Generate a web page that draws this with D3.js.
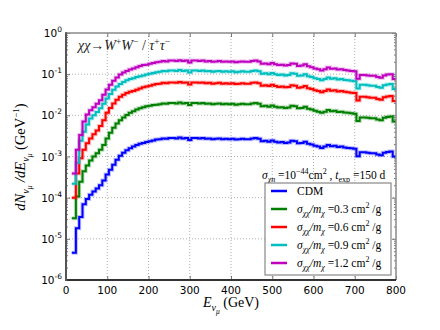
<!DOCTYPE html>
<html><head><meta charset="utf-8">
<script src="https://cdn.jsdelivr.net/npm/d3@7"></script>
<style>body{margin:0;background:#fff}svg{display:block}</style>
</head><body><div id="chart"></div>
<script>
// energy bins (GeV)
const energyEdges = [14, ...d3.range(24, 801, 8)];
const xTicks = [0,100,200,300,400,500,600,700,800];
const yTickExps = [-6,-5,-4,-3,-2,-1,0];
const seriesLabels = ["CDM","0.3","0.6","0.9","1.2"];
const seriesColors = ["#0000ff","#008000","#ff0000","#00bfbf","#bf00bf"];

const cdm = [4.6e-6,1.8e-5,3.4e-5,6.9e-5,9.3e-5,1.17e-4,1.41e-4,1.66e-4,2.0e-4,2.63e-4,
3.63e-4,4.79e-4,6.31e-4,8.32e-4,1.05e-3,1.23e-3,1.41e-3,1.58e-3,1.74e-3,1.91e-3,
2.04e-3,2.14e-3,2.24e-3,2.34e-3,2.45e-3,2.57e-3,2.63e-3,2.75e-3,2.69e-3,2.82e-3,
2.82e-3,2.75e-3,2.88e-3,2.75e-3,2.82e-3,2.51e-3,2.82e-3,2.82e-3,2.75e-3,2.82e-3,
2.69e-3,2.75e-3,2.63e-3,2.69e-3,2.75e-3,2.63e-3,2.69e-3,2.63e-3,2.69e-3,2.57e-3,
2.63e-3,2.69e-3,2.63e-3,2.63e-3,2.75e-3,2.82e-3,2.69e-3,2.34e-3,2.40e-3,2.29e-3,
2.45e-3,2.29e-3,2.19e-3,2.24e-3,2.14e-3,2.19e-3,2.40e-3,2.34e-3,2.09e-3,2.14e-3,
2.29e-3,2.04e-3,1.95e-3,1.82e-3,1.74e-3,1.62e-3,1.74e-3,1.91e-3,1.78e-3,1.82e-3,
1.70e-3,1.74e-3,1.66e-3,1.62e-3,1.58e-3,1.55e-3,1.02e-3,1.26e-3,1.26e-3,1.23e-3,
1.20e-3,1.20e-3,1.12e-3,1.07e-3,1.23e-3,1.29e-3,1.32e-3,1.00e-3];

const sidm03 = [3.16e-5,1.07e-4,2.45e-4,4.37e-4,6.03e-4,7.94e-4,1.00e-3,1.20e-3,1.45e-3,1.91e-3,
2.75e-3,3.80e-3,5.01e-3,6.31e-3,7.59e-3,8.91e-3,1.02e-2,1.15e-2,1.26e-2,1.38e-2,
1.48e-2,1.58e-2,1.66e-2,1.70e-2,1.78e-2,1.82e-2,1.86e-2,1.95e-2,1.91e-2,2.00e-2,
2.00e-2,1.95e-2,2.04e-2,1.95e-2,2.00e-2,1.78e-2,2.00e-2,2.00e-2,1.95e-2,2.00e-2,
1.91e-2,1.95e-2,1.86e-2,1.91e-2,1.95e-2,1.86e-2,1.91e-2,1.86e-2,1.91e-2,1.82e-2,
1.86e-2,1.91e-2,1.86e-2,1.86e-2,1.95e-2,2.00e-2,1.91e-2,1.66e-2,1.70e-2,1.62e-2,
1.74e-2,1.62e-2,1.55e-2,1.58e-2,1.51e-2,1.55e-2,1.70e-2,1.66e-2,1.48e-2,1.51e-2,
1.62e-2,1.45e-2,1.38e-2,1.29e-2,1.23e-2,1.15e-2,1.23e-2,1.35e-2,1.26e-2,1.29e-2,
1.20e-2,1.23e-2,1.17e-2,1.15e-2,1.12e-2,1.10e-2,7.24e-3,8.91e-3,8.91e-3,8.71e-3,
8.51e-3,8.51e-3,7.94e-3,7.59e-3,8.71e-3,9.12e-3,9.33e-3,7.08e-3];

const sidm06 = [1.00e-4,3.89e-4,9.12e-4,1.45e-3,2.09e-3,2.75e-3,3.47e-3,4.27e-3,5.50e-3,7.59e-3,
1.15e-2,1.51e-2,1.95e-2,2.40e-2,2.82e-2,3.16e-2,3.47e-2,3.72e-2,3.89e-2,4.17e-2,
4.47e-2,4.79e-2,5.01e-2,5.25e-2,5.50e-2,5.75e-2,5.89e-2,6.17e-2,6.03e-2,6.31e-2,
6.31e-2,6.17e-2,6.46e-2,6.17e-2,6.31e-2,5.62e-2,6.31e-2,6.31e-2,6.17e-2,6.31e-2,
6.03e-2,6.17e-2,5.89e-2,6.03e-2,6.17e-2,5.89e-2,6.03e-2,5.89e-2,6.03e-2,5.75e-2,
5.89e-2,6.03e-2,5.89e-2,5.89e-2,6.17e-2,6.31e-2,6.03e-2,5.25e-2,5.37e-2,5.13e-2,
5.50e-2,5.13e-2,4.90e-2,5.01e-2,4.79e-2,4.90e-2,5.37e-2,5.25e-2,4.68e-2,4.79e-2,
5.13e-2,4.57e-2,4.37e-2,4.07e-2,3.89e-2,3.63e-2,3.89e-2,4.27e-2,3.98e-2,4.07e-2,
3.80e-2,3.89e-2,3.72e-2,3.63e-2,3.55e-2,3.47e-2,2.29e-2,2.82e-2,2.82e-2,2.75e-2,
2.69e-2,2.69e-2,2.51e-2,2.40e-2,2.75e-2,2.88e-2,2.95e-2,2.24e-2];

const sidm09 = [2.19e-4,7.08e-4,2.40e-3,3.98e-3,6.03e-3,8.32e-3,1.00e-2,1.20e-2,1.48e-2,1.91e-2,
2.57e-2,3.31e-2,4.17e-2,5.01e-2,5.75e-2,6.46e-2,7.08e-2,7.59e-2,7.94e-2,8.51e-2,
8.91e-2,9.33e-2,9.77e-2,1.02e-1,1.07e-1,1.12e-1,1.15e-1,1.20e-1,1.17e-1,1.23e-1,
1.23e-1,1.20e-1,1.26e-1,1.20e-1,1.23e-1,1.10e-1,1.23e-1,1.23e-1,1.20e-1,1.23e-1,
1.17e-1,1.20e-1,1.15e-1,1.17e-1,1.20e-1,1.15e-1,1.17e-1,1.15e-1,1.17e-1,1.12e-1,
1.15e-1,1.17e-1,1.15e-1,1.15e-1,1.20e-1,1.23e-1,1.17e-1,1.02e-1,1.05e-1,1.00e-1,
1.07e-1,1.00e-1,9.55e-2,9.77e-2,9.33e-2,9.55e-2,1.05e-1,1.02e-1,9.12e-2,9.33e-2,
1.00e-1,8.91e-2,8.51e-2,7.94e-2,7.59e-2,7.08e-2,7.59e-2,8.32e-2,7.76e-2,7.94e-2,
7.41e-2,7.59e-2,7.24e-2,7.08e-2,6.92e-2,6.76e-2,4.47e-2,5.50e-2,5.50e-2,5.37e-2,
5.25e-2,5.25e-2,4.90e-2,4.68e-2,5.37e-2,5.62e-2,5.75e-2,4.37e-2];

const sidm12 = [3.89e-4,1.45e-3,3.31e-3,7.08e-3,1.05e-2,1.32e-2,1.58e-2,1.91e-2,2.34e-2,3.16e-2,
4.27e-2,5.50e-2,6.92e-2,8.32e-2,9.77e-2,1.10e-1,1.20e-1,1.29e-1,1.38e-1,1.48e-1,
1.58e-1,1.66e-1,1.70e-1,1.78e-1,1.86e-1,1.95e-1,2.00e-1,2.09e-1,2.04e-1,2.14e-1,
2.14e-1,2.09e-1,2.19e-1,2.09e-1,2.14e-1,1.91e-1,2.14e-1,2.14e-1,2.09e-1,2.14e-1,
2.04e-1,2.09e-1,2.00e-1,2.04e-1,2.09e-1,2.00e-1,2.04e-1,2.00e-1,2.04e-1,1.95e-1,
2.00e-1,2.04e-1,2.00e-1,2.00e-1,2.09e-1,2.14e-1,2.04e-1,1.78e-1,1.82e-1,1.74e-1,
1.86e-1,1.74e-1,1.66e-1,1.70e-1,1.62e-1,1.66e-1,1.82e-1,1.78e-1,1.58e-1,1.62e-1,
1.74e-1,1.55e-1,1.48e-1,1.38e-1,1.32e-1,1.23e-1,1.32e-1,1.45e-1,1.35e-1,1.38e-1,
1.29e-1,1.32e-1,1.26e-1,1.23e-1,1.20e-1,1.17e-1,7.76e-2,9.55e-2,9.55e-2,9.33e-2,
9.12e-2,9.12e-2,8.51e-2,8.13e-2,9.33e-2,9.77e-2,1.00e-1,7.59e-2];

const allSeries = [cdm, sidm03, sidm06, sidm09, sidm12];

const W = 440, H = 330;
const M = {left: 66, right: 44, top: 33, bottom: 50};
const svg = d3.select("#chart").append("svg").attr("width", W).attr("height", H);
const x = d3.scaleLinear().domain([0, 800]).range([M.left, W - M.right]);
const y = d3.scaleLog().domain([1e-6, 1]).range([H - M.bottom, M.top]);
const x0 = M.left, x1 = W - M.right, y0 = H - M.bottom, y1 = M.top;
const SERIF = "'Liberation Serif','DejaVu Serif',serif";
const SANS = "'DejaVu Sans',sans-serif";

// grid
const grid = svg.append("g").attr("stroke", "#9a9a9a").attr("stroke-width", 0.8).attr("stroke-dasharray", "1,2");
xTicks.slice(1, -1).forEach(t => grid.append("line").attr("x1", x(t)).attr("x2", x(t)).attr("y1", y1).attr("y2", y0));
yTickExps.slice(1, -1).forEach(e => grid.append("line").attr("x1", x0).attr("x2", x1).attr("y1", y(Math.pow(10, e))).attr("y2", y(Math.pow(10, e))));

// axes (ticks inside)
const minorVals = [];
yTickExps.slice(0, -1).forEach(e => { for (let k = 2; k <= 9; k++) minorVals.push(k * Math.pow(10, e)); });
const yLeft = d3.axisLeft(y).tickValues(yTickExps.map(e => Math.pow(10, e))).tickSize(-4).tickFormat("");
const yLeftMinor = d3.axisLeft(y).tickValues(minorVals).tickSize(-2).tickFormat("");
const yRight = d3.axisRight(y).tickValues(yTickExps.map(e => Math.pow(10, e))).tickSize(-4).tickFormat("");
const yRightMinor = d3.axisRight(y).tickValues(minorVals).tickSize(-2).tickFormat("");
const xBottom = d3.axisBottom(x).tickValues(xTicks).tickSize(-4).tickFormat("");
const xTop = d3.axisTop(x).tickValues(xTicks).tickSize(-4).tickFormat("");
function styleAxis(g, col) { g.select(".domain").remove(); g.selectAll("line").attr("stroke", col).attr("stroke-width", 0.8); }
svg.append("g").attr("transform", `translate(${x0},0)`).call(yLeft).call(g => styleAxis(g, "#555"));
svg.append("g").attr("transform", `translate(${x0},0)`).call(yLeftMinor).call(g => styleAxis(g, "#555"));
svg.append("g").attr("transform", `translate(${x1},0)`).call(yRight).call(g => styleAxis(g, "#555"));
svg.append("g").attr("transform", `translate(${x1},0)`).call(yRightMinor).call(g => styleAxis(g, "#555"));
svg.append("g").attr("transform", `translate(0,${y0})`).call(xBottom).call(g => styleAxis(g, "#555"));
svg.append("g").attr("transform", `translate(0,${y1})`).call(xTop).call(g => styleAxis(g, "#555"));

// tick labels
xTicks.forEach(t => svg.append("text").attr("x", x(t)).attr("y", y0 + 14).attr("text-anchor", "middle")
  .attr("font-family", SANS).attr("font-size", 10.5).attr("fill", "#000").text(t));
yTickExps.forEach(e => {
  const tx = svg.append("text").attr("x", x0 - 4).attr("y", y(Math.pow(10, e)) + 4).attr("text-anchor", "end")
    .attr("font-family", SANS).attr("font-size", 10.5).attr("fill", "#000");
  tx.append("tspan").text("10");
  tx.append("tspan").attr("dy", -5).attr("font-size", 7.5).text(e === 0 ? "0" : "-" + Math.abs(e));
});

// curves
const clip = svg.append("clipPath").attr("id", "clip").append("rect").attr("x", x0).attr("y", y1).attr("width", x1 - x0).attr("height", y0 - y1);
const line = d3.line().x(d => x(d[0])).y(d => y(d[1])).curve(d3.curveStepAfter);
const curves = svg.append("g").attr("clip-path", "url(#clip)");
allSeries.forEach((vals, i) => {
  const pts = vals.map((v, j) => [energyEdges[j], v]);
  pts.push([energyEdges[vals.length], vals[vals.length - 1]]);
  curves.append("path").attr("d", line(pts)).attr("fill", "none").attr("stroke", seriesColors[i])
    .attr("stroke-width", 4).attr("stroke-opacity", 0.25).attr("stroke-linejoin", "miter");
  curves.append("path").attr("d", line(pts)).attr("fill", "none").attr("stroke", seriesColors[i])
    .attr("stroke-width", 2).attr("stroke-linejoin", "miter");
});

// frame
svg.append("line").attr("x1", x0).attr("x2", x1).attr("y1", y1).attr("y2", y1).attr("stroke", "#888").attr("stroke-width", 1.5);
svg.append("line").attr("x1", x1).attr("x2", x1).attr("y1", y1).attr("y2", y0).attr("stroke", "#888").attr("stroke-width", 1.5);
svg.append("line").attr("x1", x0).attr("x2", x1).attr("y1", y0).attr("y2", y0).attr("stroke", "#333").attr("stroke-width", 1.8);
svg.append("line").attr("x1", x0).attr("x2", x0).attr("y1", y1 - 0.75).attr("y2", y0 + 0.9).attr("stroke", "#555").attr("stroke-width", 2);

// rich text helper
function rich(t, parts) {
  let cur = 0;
  parts.forEach(p => {
    const target = p.dy || 0;
    const ts = t.append("tspan").text(p.t).attr("dy", target - cur);
    cur = target;
    if (p.s) ts.attr("font-size", p.s);
    if (p.i) ts.attr("font-style", "italic");
  });
  return t;
}

// title
rich(svg.append("text").attr("x", 78).attr("y", 50).attr("font-family", SERIF).attr("font-size", 14).attr("fill", "#222"), [
  {t: "χχ", i: 1}, {t: "→"}, {t: "W", i: 1}, {t: "+", dy: -5, s: 9.5}, {t: "W", i: 1}, {t: "−", dy: -5, s: 9.5},
  {t: " / "}, {t: "τ", i: 1}, {t: "+", dy: -5, s: 9.5}, {t: "τ", i: 1}, {t: "−", dy: -5, s: 9.5}
]);

// annotation
rich(svg.append("text").attr("x", 262).attr("y", 179).attr("font-family", SERIF).attr("font-size", 11.5).attr("fill", "#000"), [
  {t: "σ", i: 1}, {t: "χn", i: 1, dy: 3, s: 8}, {t: " =10"}, {t: "−44", dy: -5, s: 8}, {t: "cm"}, {t: "2", dy: -5, s: 8},
  {t: " , "}, {t: "t", i: 1}, {t: "exp", dy: 3, s: 8}, {t: " =150 d"}
]);

// legend
const lg = svg.append("g");
lg.append("rect").attr("x", 265).attr("y", 183).attr("width", 126).attr("height", 92).attr("fill", "#fff").attr("stroke", "#888").attr("stroke-width", 1.2);
seriesLabels.forEach((lab, i) => {
  const yy = 191 + i * 18;
  lg.append("line").attr("x1", 271).attr("x2", 287).attr("y1", yy).attr("y2", yy).attr("stroke", seriesColors[i]).attr("stroke-width", 2.5);
  const t = lg.append("text").attr("x", 297).attr("y", yy + 4).attr("font-family", SERIF).attr("font-size", 11.5).attr("fill", "#000");
  if (i === 0) t.text(lab);
  else rich(t, [{t: "σ", i: 1}, {t: "χχ", i: 1, dy: 3, s: 8}, {t: "/m", i: 1}, {t: "χ", i: 1, dy: 3, s: 8},
    {t: " =" + lab + " cm"}, {t: "2", dy: -5, s: 8}, {t: " /g"}]);
});

// axis labels
rich(svg.append("text").attr("x", 231).attr("y", 307).attr("text-anchor", "middle").attr("font-family", SERIF).attr("font-size", 14).attr("fill", "#000"), [
  {t: "E", i: 1}, {t: "ν", i: 1, dy: 4, s: 10}, {t: "μ", i: 1, dy: 7, s: 7.5}, {t: "  (GeV)", dy: 0}
]);
rich(svg.append("text").attr("transform", "translate(25,157) rotate(-90)").attr("text-anchor", "middle").attr("font-family", SERIF).attr("font-size", 14.5).attr("fill", "#000"), [
  {t: "dN", i: 1}, {t: "ν", i: 1, dy: 4, s: 10}, {t: "μ", i: 1, dy: 7, s: 7.5}, {t: " /dE", i: 1, dy: 0},
  {t: "ν", i: 1, dy: 4, s: 10}, {t: "μ", i: 1, dy: 7, s: 7.5}, {t: "  (GeV", dy: 0}, {t: "−1", dy: -6, s: 9}, {t: ")", dy: 0}
]);
</script></body></html>
